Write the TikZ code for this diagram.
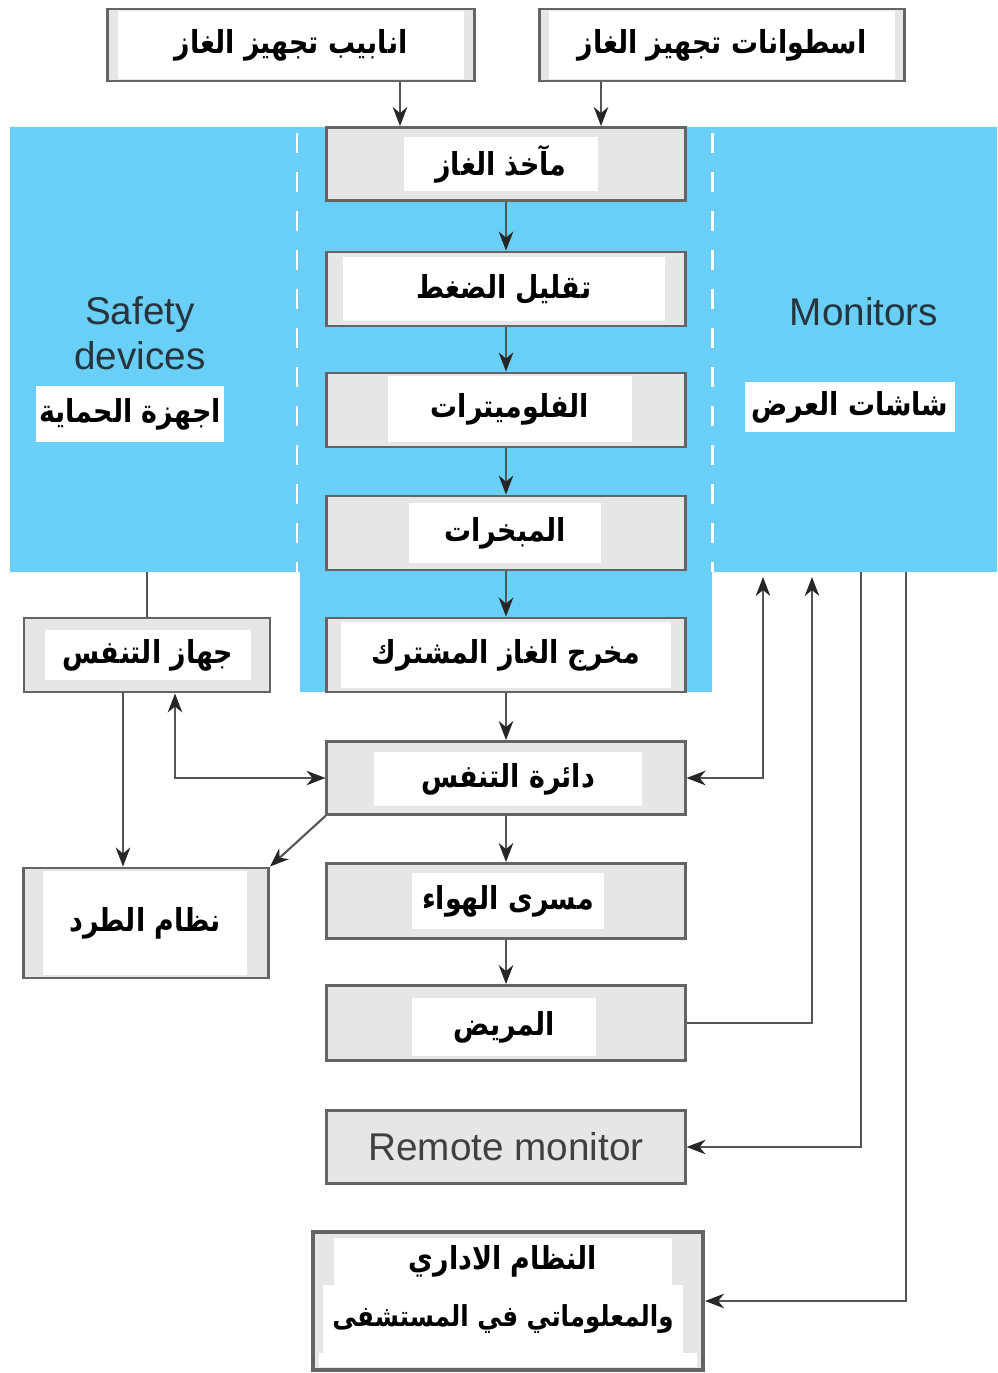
\documentclass[tikz,border=0pt]{standalone}
\usepackage{fontspec}
\setmainfont{Liberation Sans}
\newfontfamily\arabicfont[Script=Arabic, FakeStretch=0.85]{DejaVu Sans}
\TeXXeTstate=1
\usetikzlibrary{arrows.meta}

\definecolor{bluebg}{RGB}{106,207,246}
\definecolor{boxgray}{RGB}{230,230,230}
\definecolor{boxline}{RGB}{100,100,100}
\definecolor{linegray}{RGB}{85,85,85}
\definecolor{labeltext}{RGB}{38,52,62}

\tikzset{
  box/.style={draw=boxline, fill=boxgray, line width=0.8pt, inner sep=0pt},
  panel/.style={fill=white, inner sep=0pt, text=black,
    font=\arabicfont\bfseries\fontsize{9}{11}\selectfont},
  link/.style={draw=linegray, line width=0.6pt},
  flow/.style={link, -{Stealth[length=1.9mm,width=1.45mm,inset=0.6mm,color=black!85]}},
  both/.style={link, {Stealth[length=1.9mm,width=1.45mm,inset=0.6mm,color=black!85]}-{Stealth[length=1.9mm,width=1.45mm,inset=0.6mm,color=black!85]}},
  side/.style={text=labeltext, font=\fontsize{11}{12.8}\selectfont, align=center}
}

\begin{document}
\begin{tikzpicture}[x=0.01cm,y=-0.01cm]
  \useasboundingbox (0,0) rectangle (997,1373);

  % machine zone with the two side columns
  \fill[bluebg] (10,127) -- (997,127) -- (997,572) -- (712,572) -- (712,692)
    -- (300,692) -- (300,572) -- (10,572) -- cycle;
  \draw[white, line width=0.85pt, dash pattern=on 0.2cm off 0.19cm] (297,133) -- (297,572);
  \draw[white, line width=0.85pt, dash pattern=on 0.2cm off 0.19cm] (712,133) -- (712,572);

  \node[side] (safetyl) at (140,333) {Safety\\devices};
  \node[panel, minimum width=1.87cm, minimum height=0.55cm] (safetyt) at (130,414) {\beginR اجهزة الحماية\endR};
  \node[side] (monl) at (864,312) {Monitors};
  \node[panel, minimum width=2.10cm, minimum height=0.50cm] (mont) at (850,407) {\beginR شاشات العرض\endR};

  % gas supply
  \node[box, minimum width=3.66cm, minimum height=0.72cm] (pipes) at (291,45) {};
  \node[panel, minimum width=3.45cm, minimum height=0.68cm] (pipes-t) at (pipes) {\beginR انابيب تجهيز الغاز\endR};
  \node[box, minimum width=3.65cm, minimum height=0.72cm] (cyl) at (722,45) {};
  \node[panel, minimum width=3.45cm, minimum height=0.68cm] (cyl-t) at (cyl) {\beginR اسطوانات تجهيز الغاز\endR};

  % main line
  \node[box, minimum width=3.58cm, minimum height=0.73cm] (intake) at (506,164) {};
  \node[panel, minimum width=1.94cm, minimum height=0.53cm] (intake-t) at (501,164) {\beginR مآخذ الغاز\endR};
  \node[box, minimum width=3.58cm, minimum height=0.74cm] (reduce) at (506,289) {};
  \node[panel, minimum width=3.21cm, minimum height=0.63cm] (reduce-t) at (504,289) {\beginR تقليل الضغط\endR};
  \node[box, minimum width=3.58cm, minimum height=0.74cm] (flowm) at (506,410) {};
  \node[panel, minimum width=2.43cm, minimum height=0.66cm] (flowm-t) at (510,409) {\beginR الفلوميترات\endR};
  \node[box, minimum width=3.58cm, minimum height=0.74cm] (vap) at (506,533) {};
  \node[panel, minimum width=1.91cm, minimum height=0.60cm] (vap-t) at (505,533) {\beginR المبخرات\endR};
  \node[box, minimum width=3.58cm, minimum height=0.74cm] (outlet) at (506,655) {};
  \node[panel, minimum width=3.30cm, minimum height=0.65cm] (outlet-t) at (506,655) {\beginR مخرج الغاز المشترك\endR};
  \node[box, minimum width=3.58cm, minimum height=0.73cm] (circuit) at (506,778) {};
  \node[panel, minimum width=2.68cm, minimum height=0.53cm] (circuit-t) at (508,779) {\beginR دائرة التنفس\endR};
  \node[box, minimum width=3.58cm, minimum height=0.75cm] (airway) at (506,901) {};
  \node[panel, minimum width=1.91cm, minimum height=0.56cm] (airway-t) at (508,901) {\beginR مسرى الهواء\endR};
  \node[box, minimum width=3.58cm, minimum height=0.75cm] (patient) at (506,1023) {};
  \node[panel, minimum width=1.83cm, minimum height=0.58cm] (patient-t) at (504,1027) {\beginR المريض\endR};
  \node[box, minimum width=3.58cm, minimum height=0.73cm, text=black!75,
    font=\fontsize{11}{13}\selectfont] (remote) at (506,1147) {Remote monitor};

  % hospital information system
  \node[box, line width=1.1pt, minimum width=3.90cm, minimum height=1.38cm] (his) at (508,1301) {};
  \node[panel, minimum width=3.37cm, minimum height=0.47cm] (his-a) at (503,1261) {\beginR النظام الاداري\endR};
  \node[panel, minimum width=3.59cm, minimum height=0.68cm, font=\arabicfont\bfseries\fontsize{8.2}{10}\selectfont]
    (his-b) at (503,1319) {\beginR والمعلوماتي في المستشفى\endR};
  \fill[white] (319,1353) rectangle (697,1367);

  % left column
  \node[box, minimum width=2.46cm, minimum height=0.74cm] (vent) at (147,655) {};
  \node[panel, minimum width=2.05cm, minimum height=0.50cm] (vent-t) at (148,655) {\beginR جهاز التنفس\endR};
  \node[box, minimum width=2.45cm, minimum height=1.10cm] (scav) at (146,923) {};
  \node[panel, minimum width=2.04cm, minimum height=1.03cm] (scav-t) at (145,923) {\beginR نظام الطرد\endR};

  % ends of the connectors at the column edges
  \coordinate (safety) at (147,572);
  \coordinate (inA) at (400,0);
  \coordinate (inB) at (601,0);
  \coordinate (mon1) at (763,577);
  \coordinate (mon2) at (812,577);
  \coordinate (mon3) at (861,572);
  \coordinate (mon4) at (906,572);

  \draw[flow] (pipes.south -| inA) -- (intake.north -| inA);
  \draw[flow] (cyl.south -| inB) -- (intake.north -| inB);
  \foreach \a/\b in {intake/reduce, reduce/flowm, flowm/vap, vap/outlet,
                     outlet/circuit, circuit/airway, airway/patient}
    \draw[flow] (\a) -- (\b);

  \draw[link] (safety) -- (vent.north);
  \draw[flow] ([xshift=-0.24cm]vent.south) -- ([xshift=-0.24cm]vent.south |- scav.north);
  \draw[both] ([xshift=0.28cm]vent.south) |- (circuit.west);
  \draw[flow] (circuit.south west) -- (scav.north east);

  \draw[both] (circuit.east) -| (mon1);
  \draw[flow] (patient.east) -| (mon2);
  \draw[flow] (mon3) |- (remote.east);
  \draw[flow] (mon4) |- (his.east);
\end{tikzpicture}
\end{document}
